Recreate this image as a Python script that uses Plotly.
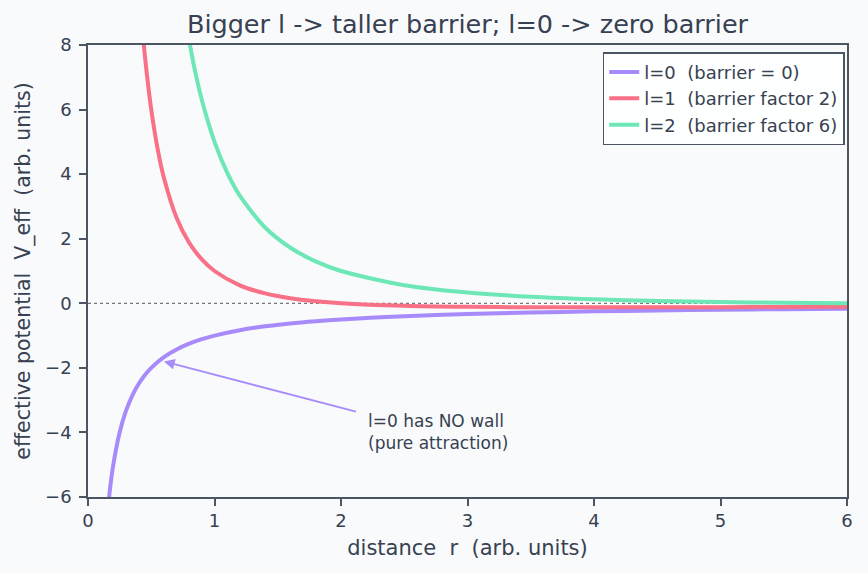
import plotly.graph_objects as go

# ---- data ----
r_l0 = [0.15, 0.175, 0.2, 0.25, 0.3, 0.35, 0.4, 0.45, 0.5, 0.6, 0.7, 0.8, 0.9, 1.0,
        1.2, 1.4, 1.6, 1.8, 2.0, 2.5, 3.0, 3.5, 4.0, 4.5, 5.0, 5.5, 6.0]
v_l0 = [-6.667, -5.714, -5.0, -4.0, -3.333, -2.857, -2.5, -2.222, -2.0, -1.667, -1.429,
        -1.25, -1.111, -1.0, -0.833, -0.714, -0.625, -0.556, -0.5, -0.4, -0.333, -0.286,
        -0.25, -0.222, -0.2, -0.182, -0.167]

r_l1 = [0.42, 0.45, 0.5, 0.55, 0.6, 0.7, 0.8, 0.9, 1.0, 1.2, 1.4, 1.6, 1.8, 2.0,
        2.5, 3.0, 3.5, 4.0, 4.5, 5.0, 5.5, 6.0]
v_l1 = [8.957, 7.654, 6.0, 4.793, 3.889, 2.653, 1.875, 1.358, 1.0, 0.556, 0.306, 0.156,
        0.062, 0.0, -0.08, -0.111, -0.122, -0.125, -0.123, -0.12, -0.116, -0.111]

r_l2 = [0.78, 0.8, 0.85, 0.9, 1.0, 1.1, 1.2, 1.4, 1.6, 1.8, 2.0, 2.5, 3.0, 3.5, 4.0,
        4.5, 5.0, 5.5, 6.0]
v_l2 = [8.580, 8.125, 7.128, 6.296, 5.0, 4.050, 3.333, 2.347, 1.719, 1.296, 1.0, 0.56,
        0.333, 0.204, 0.125, 0.074, 0.04, 0.017, 0.0]

NB = "\u00a0"
names = ["l=0 " + NB + "(barrier = 0)", "l=1 " + NB + "(barrier factor 2)", "l=2 " + NB + "(barrier factor 6)"]
colors = ["#a78bfa", "#f87187", "#6ee7b7"]

x_ticks = [0, 1, 2, 3, 4, 5, 6]
y_ticks = [-6, -4, -2, 0, 2, 4, 6, 8]

TEXT = "#374151"
AXC = "#4b5563"
FONT = "DejaVu Sans"

fig = go.Figure()
for r, v, n, c in zip([r_l0, r_l1, r_l2], [v_l0, v_l1, v_l2], names, colors):
    fig.add_trace(go.Scatter(x=r, y=v, mode="lines", name=n,
                             line=dict(color=c, width=4, shape="spline", smoothing=0.8)))

# zero reference line
fig.add_shape(type="line", xref="x", yref="y", x0=0, x1=6, y0=0, y1=0,
              line=dict(color="#555555", width=1, dash="dot"), layer="below")

# annotation text + arrow
fig.add_annotation(x=2.2, y=-4.0, xref="x", yref="y", text="l=0 has NO wall<br>(pure attraction)",
                   showarrow=False, xanchor="left", yanchor="middle", align="left",
                   font=dict(family=FONT, size=17, color=TEXT))
fig.add_annotation(x=0.6, y=-1.8, xref="x", yref="y", ax=2.13, ay=-3.37, axref="x", ayref="y",
                   text="", showarrow=True, arrowhead=2, arrowsize=1.2, arrowwidth=1.8,
                   arrowcolor="#a78bfa")

fig.update_layout(
    width=868, height=573,
    margin=dict(l=88, r=21, t=45, b=76),
    paper_bgcolor="#f9fafc", plot_bgcolor="#f9fafc",
    font=dict(family=FONT, color=TEXT, size=18),
    title=dict(text="Bigger l -> taller barrier; l=0 -> zero barrier",
               x=(88 + 847) / 2 / 868, xanchor="center", y=1 - 24 / 573, yanchor="middle",
               font=dict(size=25.5, color=TEXT, family=FONT)),
    legend=dict(x=0.997, y=0.984, xanchor="right", yanchor="top",
                bgcolor="rgba(255,255,255,0.85)", bordercolor=AXC, borderwidth=1.5,
                font=dict(size=18, color=TEXT, family=FONT), tracegroupgap=0),
    showlegend=True,
)
fig.update_xaxes(range=[0, 6], tickvals=x_ticks, ticktext=[str(t) for t in x_ticks],
                 showgrid=False, zeroline=False, showline=True, linecolor=AXC, linewidth=1.5,
                 mirror=True, ticks="outside", ticklen=7, tickcolor=AXC, tickwidth=1.5,
                 title=dict(text="distance " + NB + "r " + NB + "(arb. units)",
                            font=dict(size=21, color=TEXT), standoff=10),
                 tickfont=dict(size=18, color=TEXT))
fig.update_yaxes(range=[-6, 8], tickvals=y_ticks,
                 ticktext=["\u2212" + str(-t) if t < 0 else str(t) for t in y_ticks],
                 showgrid=False, zeroline=False, showline=True, linecolor=AXC, linewidth=1.5,
                 mirror=True, ticks="outside", ticklen=7, tickcolor=AXC, tickwidth=1.5,
                 ticklabelstandoff=4,
                 title=dict(text="effective potential " + NB + "V_eff " + NB + "(arb. units)",
                            font=dict(size=20.5, color=TEXT), standoff=9),
                 tickfont=dict(size=18, color=TEXT))

fig.write_html("out.html")
